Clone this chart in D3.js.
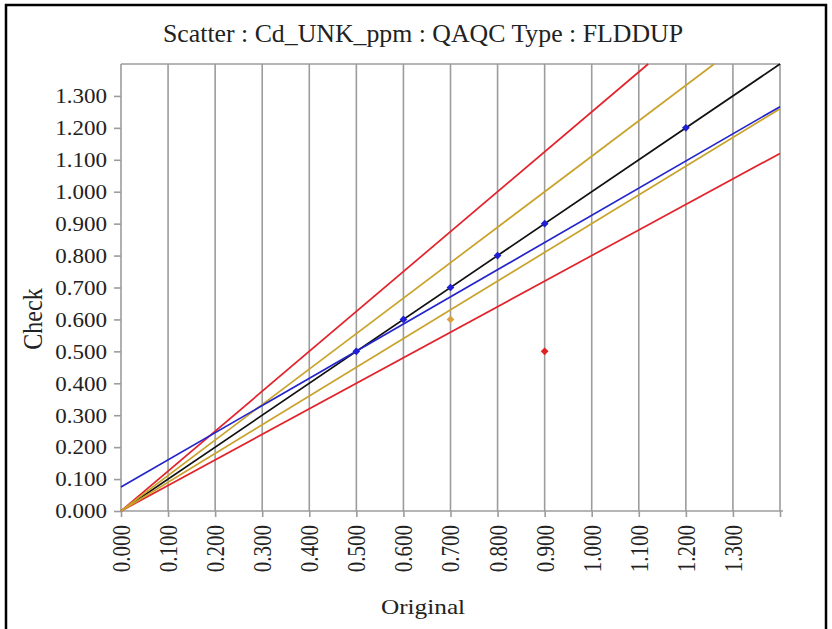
<!DOCTYPE html>
<html>
<head>
<meta charset="utf-8">
<script src="https://cdn.jsdelivr.net/npm/d3@7"></script>
<style>
  body { margin: 0; background: #fff; }
  svg { display: block; }
</style>
</head>
<body>
<svg id="chart" width="832" height="629"></svg>
<script>
// ---- data ----
const titleText = "Scatter : Cd_UNK_ppm : QAQC Type : FLDDUP";
const xLabel = "Original";
const yLabel = "Check";
const tickValues = [0.0, 0.1, 0.2, 0.3, 0.4, 0.5, 0.6, 0.7, 0.8, 0.9, 1.0, 1.1, 1.2, 1.3];
const axisMax = 1.4;

// reference lines through origin (slopes)
const refNames  = ["1:1", "+20%", "-20%", "+10%", "-10%"];
const refSlopes = [1.0, 1.25, 0.8, 1.111, 0.9];
const refClass  = ["equal", "outer", "outer", "inner", "inner"];

// regression line
const regIntercept = 0.075;
const regSlope = 0.851;

// sample points
const origValues  = [0.5, 0.6, 0.7, 0.8, 0.9, 1.2, 0.7, 0.9];
const checkValues = [0.5, 0.6, 0.7, 0.8, 0.9, 1.2, 0.6, 0.5];
const pointClass  = ["pass", "pass", "pass", "pass", "pass", "pass", "warn", "fail"];

// ---- layout / style ----
const FONT = "'Liberation Serif', 'Times New Roman', Times, serif";
const svg = d3.select("#chart");
const L = 121, R = 780, T = 64, B = 511;
const SX = 1.15; // horizontal text stretch
const x = d3.scaleLinear().domain([0, axisMax]).range([L, R]);
const y = d3.scaleLinear().domain([0, axisMax]).range([B, T]);
const gridColor = "#9c9c9c";
const textColor = "#222";
const lineColor = d3.scaleOrdinal().domain(["equal", "outer", "inner", "reg"])
  .range(["#111111", "#e2232b", "#c9a22a", "#2424cc"]);
const pointColor = d3.scaleOrdinal().domain(["pass", "warn", "fail"])
  .range(["#1f1fd6", "#dba040", "#e02222"]);

svg.append("rect").attr("width", 832).attr("height", 629).attr("fill", "#fff");
// outer border
svg.append("rect").attr("x", 6).attr("y", 5).attr("width", 820).attr("height", 700)
  .attr("fill", "none").attr("stroke", "#000").attr("stroke-width", 2.5);

// vertical grid lines
svg.append("g").selectAll("line").data(tickValues.filter(d => d > 0).concat([axisMax]))
  .join("line")
  .attr("x1", d => x(d)).attr("x2", d => x(d))
  .attr("y1", T).attr("y2", B)
  .attr("stroke", gridColor).attr("stroke-width", 1.6);

// frame
svg.append("line").attr("x1", L).attr("x2", R).attr("y1", T).attr("y2", T)
  .attr("stroke", gridColor).attr("stroke-width", 1.6);
svg.append("line").attr("x1", L).attr("x2", L).attr("y1", T).attr("y2", B)
  .attr("stroke", gridColor).attr("stroke-width", 1.6);
svg.append("line").attr("x1", L).attr("x2", R + 3).attr("y1", B).attr("y2", B)
  .attr("stroke", gridColor).attr("stroke-width", 1.6);

// y axis
const yAxis = svg.append("g").attr("transform", `translate(${L},0)`)
  .call(d3.axisLeft(y).tickValues(tickValues).tickFormat(d3.format(".3f")).tickSize(7).tickSizeOuter(0));
yAxis.select(".domain").remove();
yAxis.selectAll(".tick line").attr("stroke", gridColor).attr("stroke-width", 1.6);
yAxis.selectAll(".tick text")
  .attr("x", -14 / SX).attr("dy", "0.34em")
  .attr("transform", `scale(${SX},1)`)
  .style("font-size", "20px").style("fill", textColor)
  .style("font-family", FONT);

// x axis
const xAxis = svg.append("g").attr("transform", `translate(0,${B})`)
  .call(d3.axisBottom(x).tickValues(tickValues.concat([axisMax])).tickFormat(d => d >= axisMax ? "" : d3.format(".3f")(d)).tickSize(6).tickSizeOuter(0));
xAxis.select(".domain").remove();
xAxis.selectAll(".tick line").attr("stroke", gridColor).attr("stroke-width", 1.6);
xAxis.selectAll(".tick text")
  .attr("x", 0).attr("y", 0).attr("dy", "0.35em")
  .attr("text-anchor", "end")
  .attr("transform", `translate(0,14) scale(${SX},1) rotate(-90)`)
  .style("font-size", "21px").style("fill", textColor)
  .style("font-family", FONT);

// reference lines
const line = d3.line().x(d => x(d[0])).y(d => y(d[1]));
const plot = svg.append("g");
refSlopes.forEach((s, i) => {
  const xEnd = Math.min(axisMax, axisMax / s);
  plot.append("path")
    .datum([[0, 0], [xEnd, s * xEnd]])
    .attr("d", line)
    .attr("fill", "none")
    .attr("stroke", lineColor(refClass[i]))
    .attr("stroke-width", 1.7);
});

// regression line
plot.append("path")
  .datum([[0, regIntercept], [axisMax, regIntercept + regSlope * axisMax]])
  .attr("d", line)
  .attr("fill", "none")
  .attr("stroke", lineColor("reg"))
  .attr("stroke-width", 1.7);

// points
plot.selectAll(".pt").data(origValues.map((v, i) => ({ x: v, y: checkValues[i], c: pointClass[i] })))
  .join("path")
  .attr("class", "pt")
  .attr("transform", d => `translate(${x(d.x)},${y(d.y)}) rotate(45)`)
  .attr("d", d3.symbol().type(d3.symbolSquare).size(30))
  .attr("fill", d => pointColor(d.c));

// title and axis labels
svg.append("text").attr("x", 423).attr("y", 42).attr("text-anchor", "middle")
  .attr("textLength", 520).attr("lengthAdjust", "spacingAndGlyphs")
  .style("font-family", FONT).style("fill", textColor)
  .style("font-size", "26px").text(titleText);

svg.append("text").attr("text-anchor", "middle")
  .attr("transform", `translate(423,614) scale(${SX},1)`)
  .style("font-family", FONT).style("fill", textColor)
  .style("font-size", "22px").text(xLabel);

svg.append("text").attr("text-anchor", "middle")
  .attr("transform", `translate(42,319) scale(${SX},1) rotate(-90)`)
  .style("font-family", FONT).style("fill", textColor)
  .style("font-size", "24px").text(yLabel);
</script>
</body>
</html>
